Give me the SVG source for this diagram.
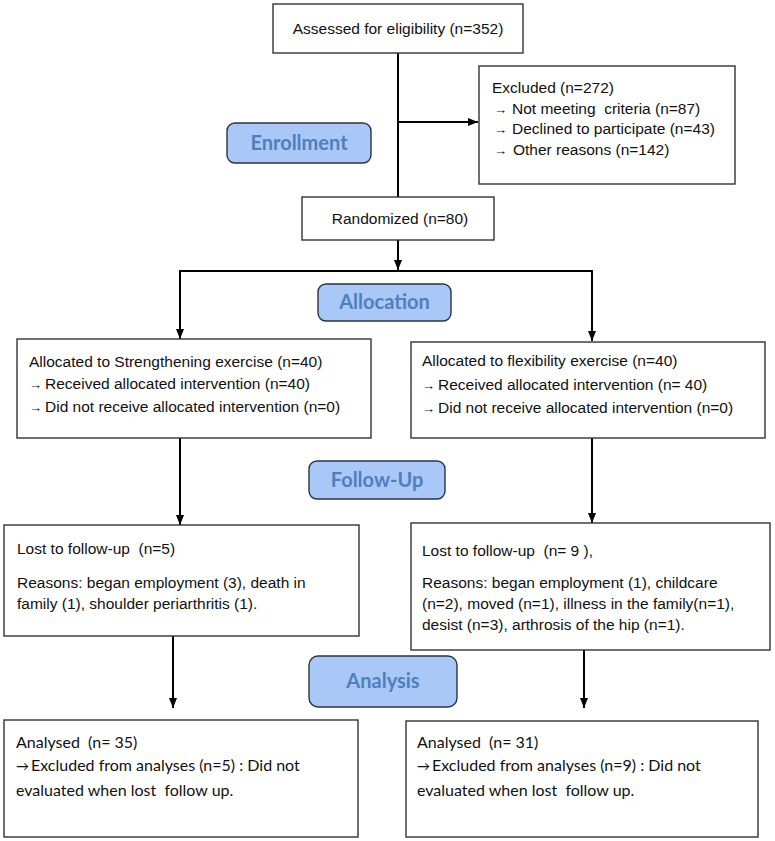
<svg xmlns="http://www.w3.org/2000/svg" width="775" height="841" viewBox="0 0 775 841">
<defs>
<style>
.box{fill:#fff;stroke:#333;stroke-width:1.4}
.pill{fill:#a9c8f8;stroke:#2b3440;stroke-width:1.4}
.t{font-family:"Liberation Sans",Arial,sans-serif;font-size:15.5px;fill:#111}
.c{font-family:Lato,"Liberation Sans",sans-serif;font-size:16px;fill:#111}
.p{font-family:Lato,"Open Sans",sans-serif;font-weight:bold;font-size:20px;fill:#4f7fbd;text-anchor:middle}
.ar{font-size:13px}
.ln{stroke:#000;stroke-width:2;fill:none}
</style>
<marker id="ah" viewBox="0 0 10 10" refX="10" refY="5" markerWidth="5" markerHeight="5" orient="auto" markerUnits="strokeWidth">
<path d="M0,1 L10,5 L0,9 z" fill="#000"/>
</marker>
</defs>
<rect width="775" height="841" fill="#fff"/>

<g id="connectors">
<line class="ln" x1="398" y1="53" x2="398" y2="197"/>
<line class="ln" x1="398" y1="122" x2="478" y2="122" marker-end="url(#ah)"/>
<line class="ln" x1="398" y1="240" x2="398" y2="270" marker-end="url(#ah)"/>
<line class="ln" x1="179" y1="271" x2="593" y2="271"/>
<line class="ln" x1="180" y1="270" x2="180" y2="339" marker-end="url(#ah)"/>
<line class="ln" x1="592" y1="270" x2="592" y2="341" marker-end="url(#ah)"/>
<line class="ln" x1="180" y1="438" x2="180" y2="525" marker-end="url(#ah)"/>
<line class="ln" x1="592" y1="438" x2="592" y2="523" marker-end="url(#ah)"/>
<line class="ln" x1="173" y1="636" x2="173" y2="708" marker-end="url(#ah)"/>
<line class="ln" x1="584" y1="639" x2="584" y2="708" marker-end="url(#ah)"/>
</g>

<g id="assessed">
<rect class="box" x="273" y="4" width="250" height="49"/>
<text class="t" x="398" y="34" text-anchor="middle">Assessed for eligibility (n=352)</text>
</g>

<g id="excluded">
<rect class="box" x="479" y="66" width="256" height="118"/>
<text class="t" x="492" y="93">Excluded (n=272)</text>
<text class="t" y="114" xml:space="preserve"><tspan x="494" class="ar">→</tspan><tspan x="512">Not meeting  criteria (n=87)</tspan></text>
<text class="t" y="134"><tspan x="494" class="ar">→</tspan><tspan x="512">Declined to participate (n=43)</tspan></text>
<text class="t" y="155"><tspan x="494" class="ar">→</tspan><tspan x="513">Other reasons (n=142)</tspan></text>
</g>

<g id="enrollment">
<rect class="pill" x="227" y="123" width="144" height="40" rx="8"/>
<text class="p" x="299" y="150">Enrollment</text>
</g>

<g id="randomized">
<rect class="box" x="302" y="197" width="192" height="43"/>
<text class="t" x="400" y="224" text-anchor="middle">Randomized (n=80)</text>
</g>

<g id="allocation">
<rect class="pill" x="318" y="284" width="133" height="37" rx="8"/>
<text class="p" x="384.5" y="309">Allocation</text>
</g>

<g id="alloc-strength">
<rect class="box" x="17" y="339" width="354" height="99"/>
<text class="t" x="29" y="367">Allocated to Strengthening exercise (n=40)</text>
<text class="t" y="389"><tspan x="29" class="ar">→</tspan><tspan x="45">Received allocated intervention (n=40)</tspan></text>
<text class="t" y="412"><tspan x="29" class="ar">→</tspan><tspan x="45">Did not receive allocated intervention (n=0)</tspan></text>
</g>

<g id="alloc-flex">
<rect class="box" x="411" y="342" width="354" height="96"/>
<text class="t" x="422" y="366">Allocated to flexibility exercise (n=40)</text>
<text class="t" y="390"><tspan x="422" class="ar">→</tspan><tspan x="438">Received allocated intervention (n= 40)</tspan></text>
<text class="t" y="413"><tspan x="422" class="ar">→</tspan><tspan x="438">Did not receive allocated intervention (n=0)</tspan></text>
</g>

<g id="followup">
<rect class="pill" x="309" y="461" width="136" height="38" rx="8"/>
<text class="p" x="377" y="487">Follow-Up</text>
</g>

<g id="lost-strength">
<rect class="box" x="4" y="525" width="355" height="111"/>
<text class="t" x="17" y="554" xml:space="preserve">Lost to follow-up  (n=5)</text>
<text class="t" x="17" y="588">Reasons: began employment (3), death in</text>
<text class="t" x="17" y="609">family (1), shoulder periarthritis (1).</text>
</g>

<g id="lost-flex">
<rect class="box" x="411" y="523" width="359" height="127"/>
<text class="t" x="422" y="556" xml:space="preserve">Lost to follow-up  (n= 9 ),</text>
<text class="t" x="422" y="588">Reasons: began employment (1), childcare</text>
<text class="t" x="422" y="609">(n=2), moved (n=1), illness in the family(n=1),</text>
<text class="t" x="422" y="630">desist (n=3), arthrosis of the hip (n=1).</text>
</g>

<g id="analysis">
<rect class="pill" x="309" y="656" width="148" height="51" rx="9"/>
<text class="p" x="383" y="688">Analysis</text>
</g>

<g id="analysed-strength">
<rect class="box" x="4" y="720" width="354" height="117"/>
<text class="c" x="16" y="748" xml:space="preserve">Analysed  (n= 35)</text>
<text class="c" y="771"><tspan x="16" class="ar">→</tspan><tspan x="31">Excluded from analyses (n=5) : Did not</tspan></text>
<text class="c" x="16" y="796" xml:space="preserve">evaluated when lost  follow up.</text>
</g>

<g id="analysed-flex">
<rect class="box" x="406" y="721" width="352" height="116"/>
<text class="c" x="417" y="748" xml:space="preserve">Analysed  (n= 31)</text>
<text class="c" y="771"><tspan x="417" class="ar">→</tspan><tspan x="432">Excluded from analyses (n=9) : Did not</tspan></text>
<text class="c" x="417" y="796" xml:space="preserve">evaluated when lost  follow up.</text>
</g>
</svg>
